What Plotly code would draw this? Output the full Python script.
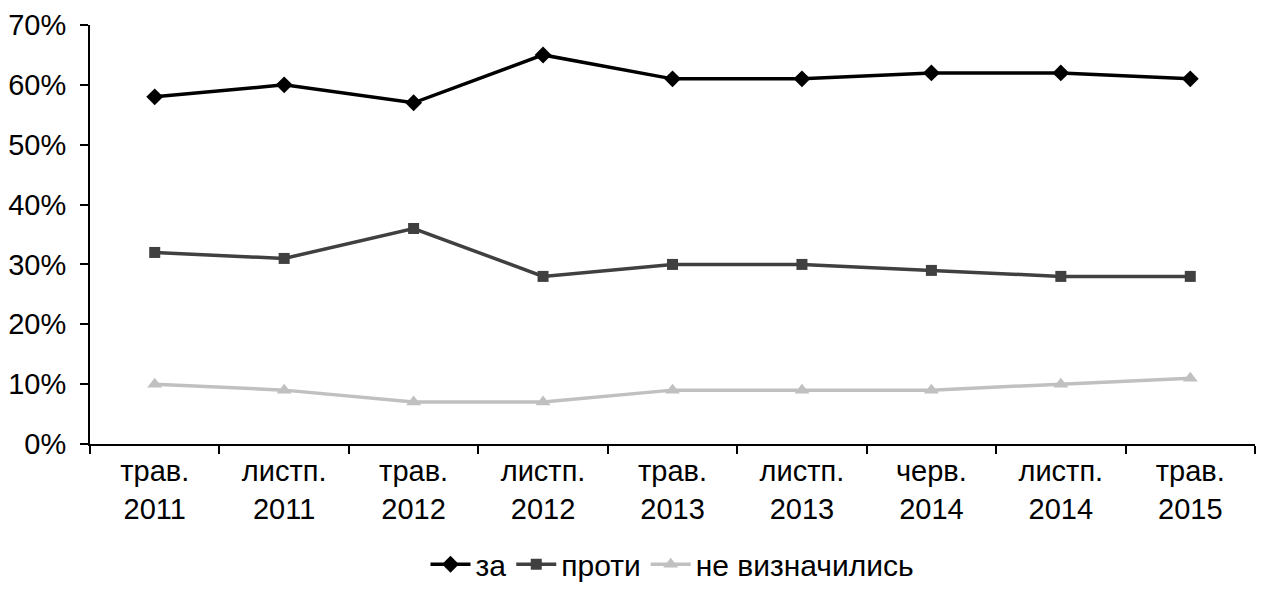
import plotly.graph_objects as go

categories = ["трав.<br>2011", "листп.<br>2011", "трав.<br>2012", "листп.<br>2012",
              "трав.<br>2013", "листп.<br>2013", "черв.<br>2014", "листп.<br>2014",
              "трав.<br>2015"]
za = [58, 60, 57, 65, 61, 61, 62, 62, 61]
proty = [32, 31, 36, 28, 30, 30, 29, 28, 28]
ne_vyznachylys = [10, 9, 7, 7, 9, 9, 9, 10, 11]

series = [
    ("за", za, "#000000", "diamond", 13),
    ("проти", proty, "#404040", "square", 11),
    ("не визначились", ne_vyznachylys, "#C0C0C0", "triangle-up", 13),
]

fig = go.Figure()
for name, vals, color, symbol, msize in series:
    fig.add_trace(go.Scatter(
        x=categories, y=[v / 100 for v in vals], name=name, mode="lines+markers",
        line=dict(color=color, width=3.5),
        marker=dict(symbol=symbol, size=msize, color=color),
    ))

font = dict(family="Liberation Sans, Arial, sans-serif", size=29, color="#000000")
legend_font = dict(family="Liberation Sans, Arial, sans-serif", size=30, color="#000000")

fig.update_layout(
    width=1264, height=604,
    margin=dict(l=90, r=9, t=25, b=160),
    paper_bgcolor="white", plot_bgcolor="white",
    font=font,
    showlegend=True,
    legend=dict(orientation="h", x=0.5, xanchor="center", y=-0.225, yanchor="top",
                font=legend_font, itemwidth=40, tracegroupgap=0),
    xaxis=dict(type="category", range=[-0.5, 8.5], tickson="boundaries",
               ticks="outside", ticklen=8, tickwidth=2, tickcolor="#000",
               showline=True, linecolor="#000", linewidth=2, ticklabelstandoff=0,
               showgrid=False, zeroline=False, tickfont=font, automargin=False),
    yaxis=dict(range=[0, 0.7], dtick=0.1, tickformat=".0%",
               ticks="outside", ticklen=8, tickwidth=2, tickcolor="#000",
               showline=True, linecolor="#000", linewidth=2, ticklabelstandoff=8,
               showgrid=False, zeroline=False, tickfont=font, automargin=False),
)

fig.write_html("out.html")
